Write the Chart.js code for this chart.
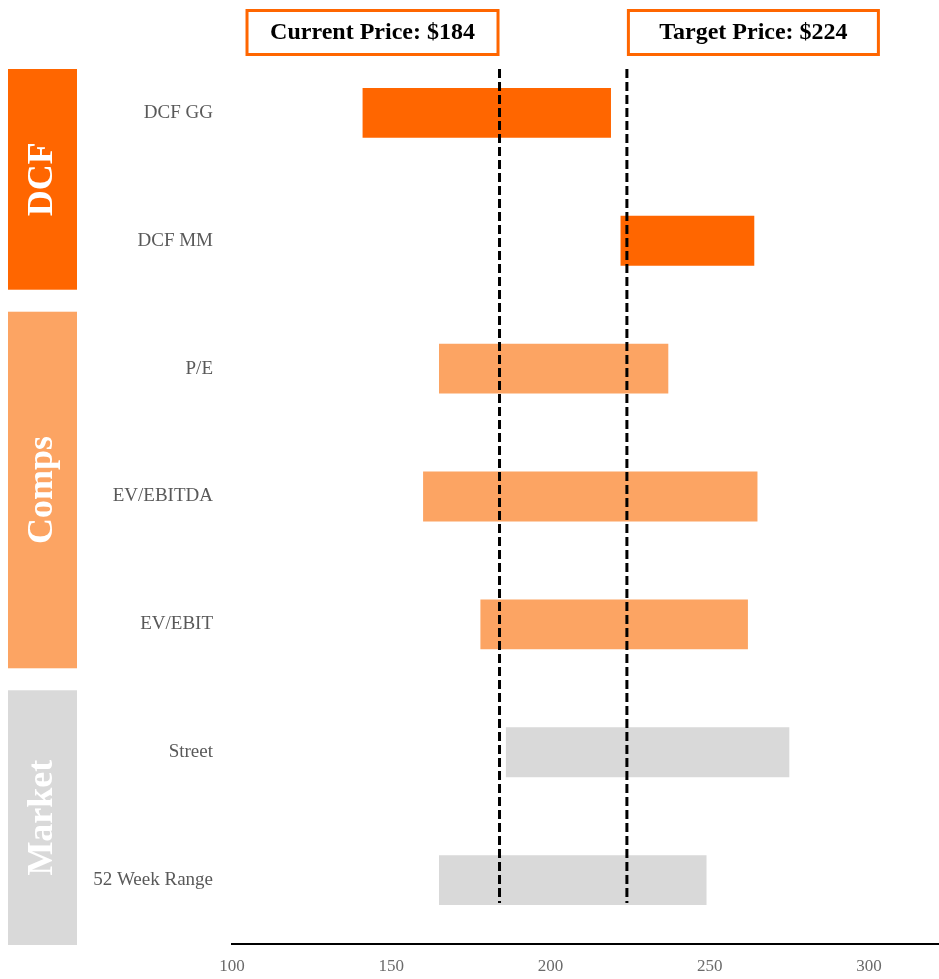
<!DOCTYPE html>
<html>
<head>
<meta charset="utf-8">
<script src="https://cdn.jsdelivr.net/npm/chart.js@4.4.1/dist/chart.umd.min.js"></script>
<style>
  html, body { margin: 0; padding: 0; background: #fff; }
  #wrap { width: 939px; height: 979px; }
</style>
</head>
<body>
<div id="wrap"><canvas id="footballField"></canvas></div>
<script>
// valuation ranges
const categories = ['DCF GG', 'DCF MM', 'P/E', 'EV/EBITDA', 'EV/EBIT', 'Street', '52 Week Range'];
const lowValues = [141, 222, 165, 160, 178, 186, 165];
const highValues = [219, 264, 237, 265, 262, 275, 249];

// method groups (how many rows each one covers)
const groupNames = ['DCF', 'Comps', 'Market'];
const groupSizes = [2, 3, 2];

const currentPrice = 184;
const targetPrice = 224;

const tickValues = [100, 150, 200, 250, 300];

const groupColors = ['#FF6600', '#FCA463', '#D9D9D9'];
const serif = "'Liberation Serif', 'DejaVu Serif', serif";

// colour each bar by the group it belongs to
const barColors = [];
groupSizes.forEach((n, g) => {
  for (let i = 0; i < n; i++) barColors.push(groupColors[g]);
});

// group side boxes, price lines and price labels
const decorations = {
  id: 'decorations',
  afterDraw(chart) {
    const ctx = chart.ctx;
    const x = chart.scales.x;
    const y = chart.scales.y;
    const area = chart.chartArea;

    // side boxes: top/bottom trimmed a little from the row bands
    const trims = [[20, -15], [7, -20], [2, 1]];
    let row = 0;
    groupSizes.forEach((n, g) => {
      const half = (y.getPixelForValue(1) - y.getPixelForValue(0)) / 2;
      const top = y.getPixelForValue(row) - half + trims[g][0];
      const bottom = y.getPixelForValue(row + n - 1) + half + trims[g][1];
      row += n;
      ctx.save();
      ctx.fillStyle = groupColors[g];
      ctx.fillRect(8, top, 69, bottom - top);
      ctx.translate(43, (top + bottom) / 2);
      ctx.rotate(-Math.PI / 2);
      ctx.fillStyle = '#fff';
      ctx.font = 'bold 36px ' + serif;
      ctx.textAlign = 'center';
      ctx.textBaseline = 'middle';
      ctx.fillText(groupNames[g], 0, 0);
      ctx.restore();
    });

    // dashed price lines
    const lineTop = area.top + 20;
    const lineBottom = area.bottom - 41;
    [currentPrice, targetPrice].forEach(p => {
      const px = x.getPixelForValue(p);
      ctx.save();
      ctx.strokeStyle = '#000';
      ctx.lineWidth = 3;
      ctx.setLineDash([9, 4]);
      ctx.beginPath();
      ctx.moveTo(px, lineTop);
      ctx.lineTo(px, lineBottom);
      ctx.stroke();
      ctx.restore();
    });

    // label boxes: current sits left of its line, target right of its line
    const drawLabel = (text, left, w) => {
      ctx.save();
      ctx.fillStyle = '#fff';
      ctx.fillRect(left, 9, w, 47);
      ctx.strokeStyle = '#FF6600';
      ctx.lineWidth = 3;
      ctx.strokeRect(left + 1.5, 10.5, w - 3, 44);
      ctx.fillStyle = '#000';
      ctx.font = 'bold 24px ' + serif;
      ctx.textAlign = 'center';
      ctx.textBaseline = 'middle';
      ctx.fillText(text, left + w / 2, 33);
      ctx.restore();
    };
    const cx = x.getPixelForValue(currentPrice);
    const tx = x.getPixelForValue(targetPrice);
    drawLabel('Current Price: $' + currentPrice, cx - 254, 254);
    drawLabel('Target Price: $' + targetPrice, tx, 253);
  }
};

const ctxEl = document.getElementById('footballField');

var fieldChart = new Chart(ctxEl, {
  type: 'bar',
  data: {
    labels: categories,
    datasets: [
      {
        data: lowValues.map((lo, i) => [lo, highValues[i]]),
        backgroundColor: barColors,
        borderWidth: 0,
        borderSkipped: false,
        barPercentage: 0.39,
        categoryPercentage: 1
      }
    ]
  },
  options: {
    indexAxis: 'y',
    responsive: true,
    maintainAspectRatio: false,
    animation: false,
    layout: {
      padding: { top: 49, left: 0, right: 0, bottom: 0 }
    },
    plugins: {
      legend: { display: false },
      tooltip: { enabled: false }
    },
    scales: {
      x: {
        min: 100,
        max: 322,
        afterBuildTicks: scale => {
          scale.ticks = tickValues.map(v => ({ value: v }));
        },
        afterFit: scale => { scale.height = 35; },
        grid: { display: false, drawTicks: false },
        border: { display: true, color: '#000', width: 2 },
        ticks: {
          color: '#6b6b6b',
          padding: 12,
          maxRotation: 0,
          autoSkip: false,
          font: { family: serif, size: 17 }
        }
      },
      y: {
        afterFit: scale => { scale.width = 232; },
        grid: { display: false, drawTicks: false },
        border: { display: false },
        ticks: {
          color: '#595959',
          padding: 19,
          font: { family: serif, size: 19 }
        }
      }
    }
  },
  plugins: [decorations]
});
</script>
</body>
</html>
